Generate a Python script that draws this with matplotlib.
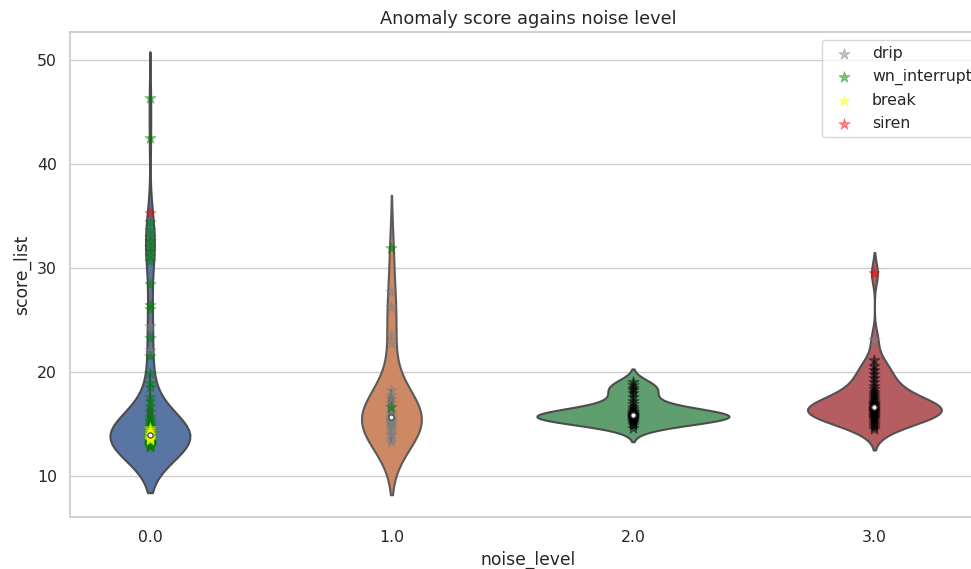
import numpy as np
import pandas as pd
import matplotlib
matplotlib.use("Agg")
import matplotlib.pyplot as plt
import seaborn as sns

# noise levels on the x axis
levels = [0.0, 1.0, 2.0, 3.0]

# scores per noise level, one list per anomaly type
scores_normal = [
    [],
    [],
    [19.0, 18.8, 18.5, 18.3, 18.0, 17.6, 17.2, 16.9, 16.6, 16.4, 16.3, 16.2,
     16.1, 16.0, 15.95, 15.9, 15.85, 15.8, 15.75, 15.7, 15.7, 15.65, 15.6,
     15.55, 15.5, 15.45, 15.4, 15.3, 15.2, 15.1, 14.9, 14.6],
    [21.2, 20.6, 20.2, 19.8, 19.4, 19.0, 18.7, 18.4, 18.1, 17.9, 17.7, 17.5,
     17.3, 17.1, 17.0, 16.9, 16.8, 16.7, 16.6, 16.5, 16.45, 16.4, 16.35, 16.3,
     16.25, 16.2, 16.1, 16.0, 15.9, 15.8, 15.7, 15.6, 15.5, 15.3, 15.1, 14.9,
     14.7, 14.5],
]
scores_drip = [
    [24.4, 22.1, 13.2, 12.8],
    [27.7, 26.3, 23.6, 22.8, 18.3, 17.8, 17.4, 17.0, 16.6, 16.2, 15.9, 15.7,
     15.6, 15.5, 15.4, 15.3, 15.2, 15.0, 14.9, 14.8, 14.5, 14.2, 14.0, 13.9,
     13.6, 13.3],
    [],
    [23.1],
]
scores_wn = [
    [46.4, 42.5, 34.4, 33.7, 33.0, 32.6, 32.0, 31.6, 31.2, 30.7, 28.5, 26.4,
     26.1, 23.3, 21.5, 19.9, 18.9, 18.6, 17.6, 17.2, 16.7, 16.2, 15.7, 15.4,
     15.2, 15.0, 14.8, 14.7, 14.5, 14.4, 14.3, 14.25, 14.2, 14.1, 14.05, 14.0,
     14.0, 13.95, 13.9, 13.9, 13.85, 13.85, 13.8, 13.8, 13.75, 13.7, 13.7,
     13.65, 13.6, 13.6, 13.55, 13.5, 13.5, 13.45, 13.4, 13.4, 13.35, 13.3,
     13.3, 13.25, 13.2, 13.2, 13.15, 13.1, 13.1, 13.05, 13.0, 13.0, 12.95,
     12.9, 12.9, 12.85, 12.8, 14.6, 14.35, 14.15, 13.95, 13.65, 13.45, 13.25,
     13.05],
    [31.9, 16.6],
    [],
    [],
]
scores_break = [
    [14.6, 14.4, 14.2, 14.0, 13.9, 13.8, 13.7, 13.6, 13.5],
    [],
    [],
    [],
]
scores_siren = [
    [35.3],
    [],
    [],
    [29.5],
]

anomaly_types = ["normal", "drip", "wn_interrupt", "break", "siren"]
type_scores = [scores_normal, scores_drip, scores_wn, scores_break, scores_siren]
type_colors = ["black", "grey", "green", "yellow", "red"]

rows = []
for name, per_level in zip(anomaly_types, type_scores):
    for lv, vals in zip(levels, per_level):
        for v in vals:
            rows.append((lv, v, name))
df = pd.DataFrame(rows, columns=["noise_level", "score_list", "type"])

sns.set_theme(style="whitegrid", font_scale=1.03)

fig = plt.figure(figsize=(9.71, 5.69), dpi=100)
ax = fig.add_axes([70 / 971, 52 / 569, 916 / 971, 485 / 569])

pal = sns.color_palette("deep")
vwidths = [0.331, 0.248, 0.795, 0.555]
bandwidths = [2.2, 2.55, 0.65, 1.0]

for i, lv in enumerate(levels):
    sub = df[df["noise_level"] == lv]
    factor = bandwidths[i] / sub["score_list"].std(ddof=1)
    sns.violinplot(data=sub, x="noise_level", y="score_list", order=levels,
                   color=pal[i], width=vwidths[i], bw_method=factor,
                   inner="box", linewidth=1.5,
                   inner_kws={"box_width": 4.5, "marker": "o"}, ax=ax)

# stars on top of the violins
for name, color in zip(anomaly_types, type_colors):
    sub = df[df["type"] == name]
    xpos = [levels.index(v) for v in sub["noise_level"]]
    lab = "_nolegend_" if name == "normal" else name
    ax.scatter(xpos, sub["score_list"], marker="*", s=75, color=color,
               alpha=0.5, linewidths=0.4, zorder=2, label=lab)

# keep the median dots above the stars
for ln in ax.lines:
    if ln.get_marker() not in (None, "None", "", " "):
        ln.set_zorder(3)
        ln.set_markerfacecolor("white")
        ln.set_markeredgecolor("#444444")

ax.set_xlim(-0.331, 3.462)
ax.set_ylim(6.06, 52.7)
ax.xaxis.grid(False)
ax.set_xlabel("noise_level")
ax.set_ylabel("score_list")
ax.set_title("Anomaly score agains noise level", fontsize=12.8)
ax.legend(loc="upper right")

fig.savefig("out.png", dpi=100)
